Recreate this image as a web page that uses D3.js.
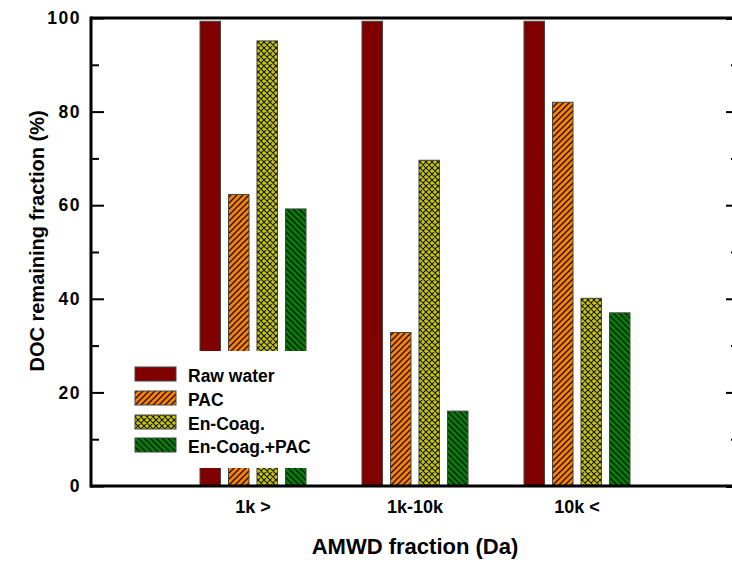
<!DOCTYPE html>
<html>
<head>
<meta charset="utf-8">
<script src="https://cdn.jsdelivr.net/npm/d3@7"></script>
<style>
  html, body { margin: 0; padding: 0; background: #fff; }
  svg { display: block; font-family: Arial, "Liberation Sans", sans-serif; font-weight: bold; }
</style>
</head>
<body>
<svg id="chart" width="732" height="562"></svg>
<script>
// ---- data ----
const categories = ["1k >", "1k-10k", "10k <"];
const seriesNames = ["Raw water", "PAC", "En-Coag.", "En-Coag.+PAC"];
const rawWater = [99.3, 99.3, 99.3];
const pac = [62.3, 32.8, 82.0];
const enCoag = [95.1, 69.6, 40.1];
const enCoagPac = [59.2, 16.0, 37.0];
const yTicks = [0, 20, 40, 60, 80, 100];
const yMinorTicks = [10, 30, 50, 70, 90];
const xLabel = "AMWD fraction (Da)";
const yLabel = "DOC remaining fraction (%)";

const seriesValues = [rawWater, pac, enCoag, enCoagPac];
const fills = ["#800000", "url(#hatchPac)", "url(#hatchCoag)", "url(#hatchGreen)"];

const svg = d3.select("#chart");
const pLeft = 91, pRight = 739, pTop = 18, pBottom = 486;

// defs: patterns
const defs = svg.append("defs");
function diagPattern(id, bg, dir) {
  const p = defs.append("pattern").attr("id", id).attr("patternUnits", "userSpaceOnUse")
    .attr("width", 6).attr("height", 6);
  p.append("rect").attr("width", 6).attr("height", 6).attr("fill", bg);
  if (dir === "/") {
    p.append("path").attr("d", "M-1,1 L1,-1 M0,6 L6,0 M5,7 L7,5").attr("stroke", "#111").attr("stroke-width", 1.3);
  } else {
    p.append("path").attr("d", "M-1,5 L1,7 M0,0 L6,6 M5,-1 L7,1").attr("stroke", "#111").attr("stroke-width", 1.3);
  }
}
diagPattern("hatchPac", "#ff8000", "/");
diagPattern("hatchGreen", "#008000", "\\");
{
  const p = defs.append("pattern").attr("id", "hatchCoag").attr("patternUnits", "userSpaceOnUse")
    .attr("width", 6).attr("height", 6);
  p.append("rect").attr("width", 6).attr("height", 6).attr("fill", "#c8c800");
  p.append("path").attr("d", "M-1,1 L1,-1 M0,6 L6,0 M5,7 L7,5 M-1,5 L1,7 M0,0 L6,6 M5,-1 L7,1")
    .attr("stroke", "#111").attr("stroke-width", 1.1);
}

// scales
const x = d3.scaleLinear().domain([0, categories.length + 1]).range([pLeft, pRight]);
const xInner = d3.scaleBand().domain(seriesNames).range([-53, 53]).paddingInner(0.28).paddingOuter(0);
const y = d3.scaleLinear().domain([0, 100]).range([pBottom, pTop]);

// bars
const barData = [];
categories.forEach((c, i) => {
  seriesNames.forEach((s, j) => {
    barData.push({ cat: i, series: s, j: j, value: seriesValues[j][i] });
  });
});
svg.append("g").selectAll("rect").data(barData).join("rect")
  .attr("x", d => x(d.cat + 1) + xInner(d.series))
  .attr("y", d => y(d.value))
  .attr("width", xInner.bandwidth())
  .attr("height", d => y(0) - y(d.value))
  .attr("fill", d => fills[d.j])
  .attr("stroke", "#444")
  .attr("stroke-width", 1);

// legend (white background box)
const lg = svg.append("g");
lg.append("rect").attr("x", 118).attr("y", 351).attr("width", 222).attr("height", 117).attr("fill", "#fff");
const legY = [367, 391, 415, 438];
seriesNames.forEach((s, j) => {
  lg.append("rect").attr("x", 135).attr("y", legY[j]).attr("width", 41).attr("height", 14)
    .attr("fill", fills[j]).attr("stroke", "#444").attr("stroke-width", 1);
  lg.append("text").attr("x", 188).attr("y", legY[j] + 14.5).attr("font-size", 17.5)
    .attr("fill", "#000").text(s);
});

// frame
svg.append("line").attr("x1", pLeft).attr("x2", pRight + 2).attr("y1", pTop).attr("y2", pTop)
  .attr("stroke", "#000").attr("stroke-width", 3);
svg.append("line").attr("x1", pLeft - 1).attr("x2", pRight + 2).attr("y1", pBottom).attr("y2", pBottom)
  .attr("stroke", "#000").attr("stroke-width", 3);

// left axis
const yAxis = d3.axisLeft(y).tickValues(yTicks).tickSize(-13).tickPadding(10).tickFormat(d3.format("d"));
const ga = svg.append("g").attr("transform", `translate(${pLeft},0)`).call(yAxis);
ga.select(".domain").attr("stroke-width", 3).attr("d", `M0,${pTop - 1.5}V${pBottom + 1.5}`);
ga.selectAll(".tick line").attr("stroke-width", 2);
ga.selectAll(".tick text").attr("font-size", 17.5).attr("font-family", "Arial, 'Liberation Sans', sans-serif")
  .attr("font-weight", "bold").attr("fill", "#000").attr("letter-spacing", 1.5);
const gMinor = svg.append("g").attr("transform", `translate(${pLeft},0)`)
  .call(d3.axisLeft(y).tickValues(yMinorTicks).tickSize(-8).tickFormat(""));
gMinor.select(".domain").remove();
gMinor.selectAll(".tick line").attr("stroke-width", 2);

// right axis
const gr = svg.append("g").attr("transform", `translate(${pRight},0)`)
  .call(d3.axisRight(y).tickValues(yTicks).tickSize(-13).tickFormat(""));
gr.select(".domain").attr("stroke-width", 3);
gr.selectAll(".tick line").attr("stroke-width", 2);
const gr2 = svg.append("g").attr("transform", `translate(${pRight},0)`)
  .call(d3.axisRight(y).tickValues(yMinorTicks).tickSize(-8).tickFormat(""));
gr2.select(".domain").remove();
gr2.selectAll(".tick line").attr("stroke-width", 2);

// x category labels
svg.append("g").selectAll("text").data(categories).join("text")
  .attr("x", (d, i) => x(i + 1))
  .attr("y", 513)
  .attr("text-anchor", "middle")
  .attr("font-size", 18)
  .attr("fill", "#000")
  .text(d => d);

// axis titles
svg.append("text").attr("x", x(2)).attr("y", 554).attr("text-anchor", "middle")
  .attr("font-size", 22).attr("fill", "#000").text(xLabel);
svg.append("text").attr("transform", `translate(44,241) rotate(-90)`).attr("text-anchor", "middle")
  .attr("font-size", 20).attr("fill", "#000").text(yLabel);
</script>
</body>
</html>
